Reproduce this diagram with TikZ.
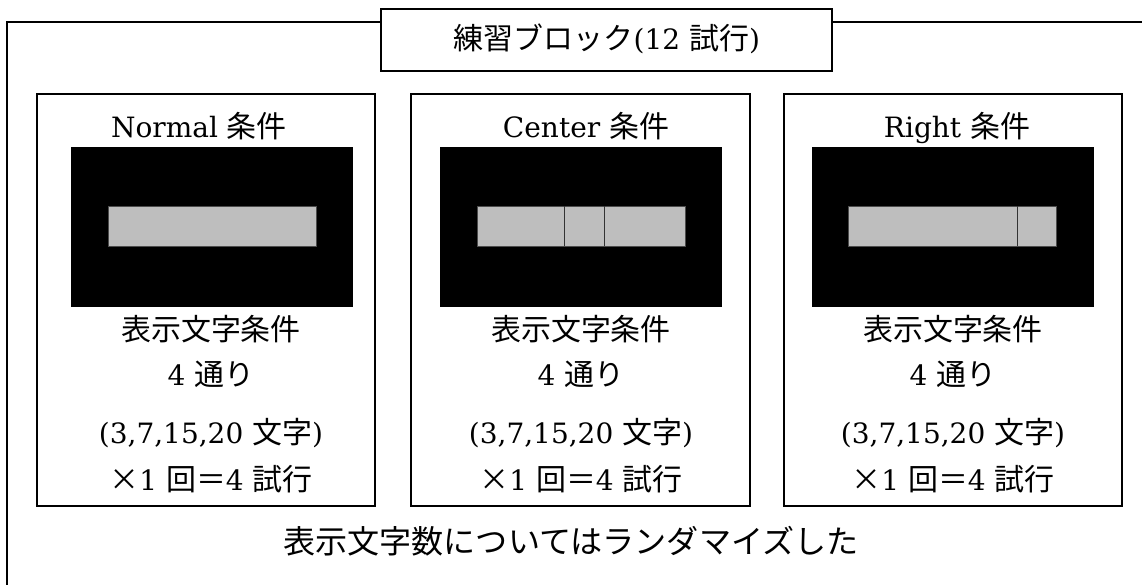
\documentclass[tikz,border=0pt]{standalone}
\usepackage{fontspec}
\setmainfont{DejaVu Serif}
\newfontfamily\jp{Noto Sans CJK JP}[Scale=1.07]
\definecolor{bargray}{RGB}{190,190,190}
\begin{document}
\begin{tikzpicture}[x=1pt,y=-1pt,
  frame/.style={line width=1.2pt},
  panel/.style={draw, line width=1.2pt, inner sep=0pt, outer sep=0pt},
  screen/.style={fill=black, inner sep=0pt, outer sep=0pt, minimum width=282pt, minimum height=160pt},
  bar/.style={fill=bargray, draw=black!70, line width=0.6pt, inner sep=0pt, minimum height=40pt},
  divider/.style={draw=black!80, line width=1pt},
  txt/.style={font=\fontsize{28}{34}\selectfont, inner sep=0pt, anchor=base},
  notetxt/.style={font=\fontsize{30}{36}\selectfont, inner sep=0pt, anchor=base},
  titlebox/.style={draw, fill=white, line width=1.2pt, inner sep=0pt, minimum width=451pt, minimum height=62pt}
]
\useasboundingbox (0,0) rectangle (1142,585);
% outer frame (open at right and bottom)
\coordinate (fbl) at (7,585);
\coordinate (ftl) at (7,22);
\coordinate (ftr) at (1142,22);
\draw[frame] (fbl) -- (ftl) -- (ftr);
% title
\node[titlebox] (title) at (606.5,40) {};
\node[txt] (titletxt) at (607,50) {{\jp 練習ブロック}(12 {\jp 試行})};
% panels
\node[panel, minimum width=338pt, minimum height=412pt] (p1) at (206,300) {};
\node[panel, minimum width=339pt, minimum height=412pt] (p2) at (580.5,300) {};
\node[panel, minimum width=338pt, minimum height=412pt] (p3) at (953,300) {};
% panel headings
\node[txt] (h1) at (199,138) {Normal {\jp 条件}};
\node[txt] (h2) at (586,138) {Center {\jp 条件}};
\node[txt] (h3) at (957,138) {Right {\jp 条件}};
% screens
\node[screen] (s1) at (212,227) {};
\node[screen] (s2) at (581,227) {};
\node[screen] (s3) at (953,227) {};
% bars
\node[bar, minimum width=208pt] (b1) at (212,226) {};
\node[bar, minimum width=208pt] (b2) at (581,226) {};
\node[bar, minimum width=208pt] (b3) at (952,226) {};
\coordinate (d2at) at (564.5,206); \coordinate (d2ab) at (564.5,246);
\coordinate (d2bt) at (604.5,206); \coordinate (d2bb) at (604.5,246);
\coordinate (d3t) at (1017,206); \coordinate (d3b) at (1017,246);
\draw[divider] (d2at) -- (d2ab);
\draw[divider] (d2bt) -- (d2bb);
\draw[divider] (d3t) -- (d3b);
% body texts
\foreach \i/\x in {1/211, 2/581, 3/953} {
  \node[txt] (ta\i) at (\x,340) {\jp 表示文字条件};
  \node[txt] (tb\i) at (\x,385) {4 {\jp 通り}};
  \node[txt] (tc\i) at (\x,443) {(3,7,15,20 {\jp 文字})};
  \node[txt] (td\i) at (\x,490) {{\jp ×}1 {\jp 回＝}4 {\jp 試行}};
}
% bottom note
\node[notetxt] (note) at (571,553) {\jp 表示文字数についてはランダマイズした};
\end{tikzpicture}
\end{document}
